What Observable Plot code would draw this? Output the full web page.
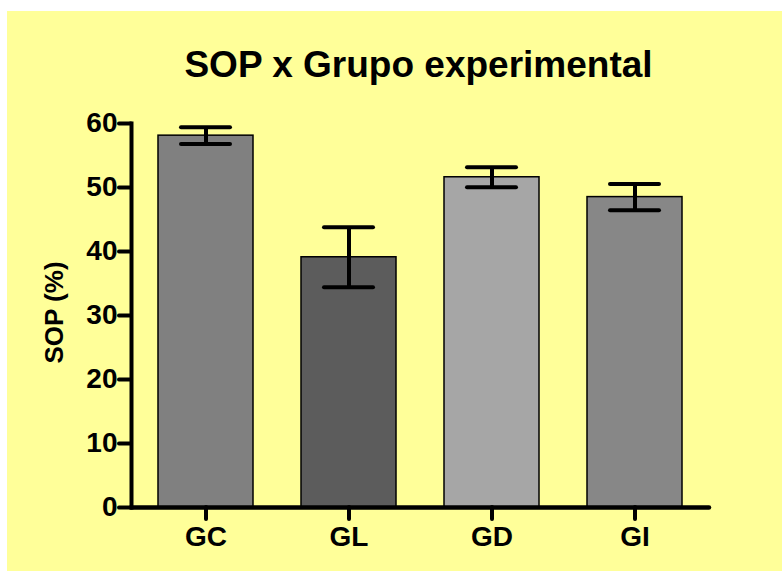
<!DOCTYPE html>
<html>
<head>
<meta charset="utf-8">
<script src="https://cdn.jsdelivr.net/npm/d3@7"></script>
<script src="https://cdn.jsdelivr.net/npm/@observablehq/plot@0.6"></script>
<style>
  html, body { margin: 0; padding: 0; background: #ffffff; }
  #wrap { position: relative; width: 782px; height: 571px; overflow: hidden; }
  #bg { position: absolute; left: 7px; top: 11px; right: 0; bottom: 0; background: #ffff99; }
  #chart { position: absolute; left: 0; top: 0; }
</style>
</head>
<body>
<div id="wrap"><div id="bg"></div><div id="chart"></div></div>
<script>
const groups = ["GC", "GL", "GD", "GI"];
const means = [58.1, 39.1, 51.6, 48.5];
const sems = [1.3, 4.7, 1.55, 2.05];
const yTicks = [0, 10, 20, 30, 40, 50, 60];
const titleText = "SOP x Grupo experimental";
const yLabel = "SOP (%)";
const barColors = ["#808080", "#5c5c5c", "#a6a6a6", "#878787"];

const rows = groups.map((g, i) => ({group: g, mean: means[i], lo: means[i] - sems[i], hi: means[i] + sems[i]}));
const font = "'Liberation Sans', Arial, Helvetica, sans-serif";

const chart = Plot.plot({
  width: 782,
  height: 571,
  marginLeft: 131,
  marginRight: 73,
  marginTop: 123,
  marginBottom: 64,
  style: {background: "transparent", fontFamily: font, fontWeight: "bold", fontSize: "27px", color: "#000"},
  x: {type: "band", domain: groups, paddingInner: 0.333, paddingOuter: 0.174, label: null},
  y: {domain: [0, 60], label: null},
  color: {domain: groups, range: barColors},
  marks: [
    Plot.barY(rows, {x: "group", y: "mean", fill: "group", stroke: "#000", strokeWidth: 1.5}),
    Plot.ruleX(rows, {x: "group", y1: "lo", y2: "hi", stroke: "#000", strokeWidth: 4}),
    Plot.tickY(rows, {x: "group", y: "hi", stroke: "#000", strokeWidth: 4, strokeLinecap: "round", insetLeft: 23, insetRight: 23}),
    Plot.tickY(rows, {x: "group", y: "lo", stroke: "#000", strokeWidth: 4, strokeLinecap: "round", insetLeft: 23, insetRight: 23}),
    Plot.frame({anchor: "left", stroke: "#000", strokeWidth: 4}),
    Plot.ruleY([0], {stroke: "#000", strokeWidth: 4.5, strokeLinecap: "round"}),
    Plot.axisY({ticks: yTicks, tickSize: 12, tickPadding: 2, strokeWidth: 4, strokeLinecap: "round", fontSize: 28, fontWeight: "bold", label: null}),
    Plot.axisX({tickSize: 12, tickPadding: 7, strokeWidth: 4, strokeLinecap: "round", fontSize: 28, fontWeight: "bold", label: null}),
    Plot.text([yLabel], {frameAnchor: "left", textAnchor: "middle", rotate: -90, dx: -77, dy: -3, fontSize: 26, fontWeight: "bold", fill: "#000"}),
    Plot.text([titleText], {frameAnchor: "top", lineAnchor: "bottom", dy: -47, dx: -2, fontSize: 37, fontWeight: "bold", fill: "#000"})
  ]
});
document.getElementById("chart").appendChild(chart);
</script>
</body>
</html>
